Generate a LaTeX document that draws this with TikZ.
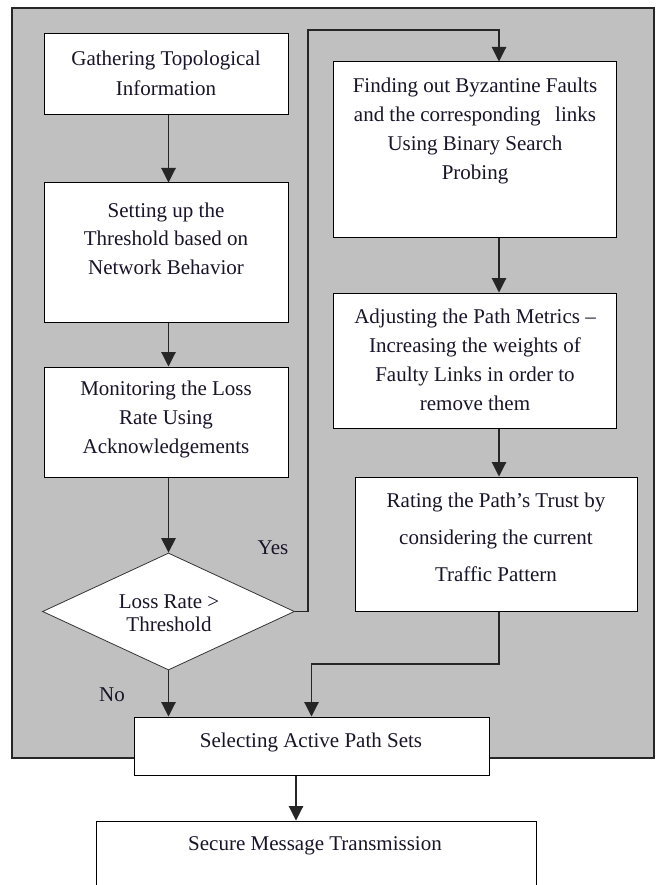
\documentclass[tikz,border=0pt]{standalone}
\usepackage{fontspec}
\setmainfont{Liberation Serif}
\usetikzlibrary{arrows.meta,shapes.geometric}
\definecolor{panelgray}{RGB}{192,192,192}
\definecolor{inkc}{RGB}{25,20,40}
\begin{document}
\begin{tikzpicture}[x=1pt,y=-1pt,
  panel/.style={draw=black!85, line width=1.1pt, fill=panelgray, inner sep=0pt},
  box/.style={draw=black, line width=1pt, fill=white, inner sep=0pt},
  decision/.style={diamond, draw=black!80, line width=0.8pt, fill=white, inner sep=0pt},
  txt/.style={align=center, text=inkc, inner sep=0pt},
  fs/.style={font=\fontsize{21}{#1}\selectfont},
  arr/.style={-{Triangle[width=14.5pt,length=14.5pt]}, line width=1.1pt, draw=black!85},
  lbl/.style={text=inkc, inner sep=0pt, font=\fontsize{21}{25}\selectfont}]
\useasboundingbox (0,0) rectangle (659,885);

% background panel
\node[panel, minimum width=642, minimum height=750] (panelbg) at (333,383) {};

% left column
\node[box, minimum width=244, minimum height=81]  (gather)  at (166,74.5) {};
\node[txt, fs=30] (gatherT) at (166,73) {Gathering Topological\\Information};

\node[box, minimum width=244, minimum height=139] (setup)   at (166,252.5) {};
\node[txt, fs=28.5] (setupT) at (166,238.5) {Setting up the\\Threshold based on\\Network Behavior};

\node[box, minimum width=244, minimum height=110] (monitor) at (166,422) {};
\node[txt, fs=29] (monitorT) at (166,419) {Monitoring the Loss\\Rate Using\\Acknowledgements};

\node[decision, minimum width=252, minimum height=117] (dec) at (168.5,611.5) {};
\node[txt, fs=23] (decT) at (169,613.5) {Loss Rate {>}\\Threshold};

% right column
\node[box, minimum width=283, minimum height=175] (find)   at (474.5,149.5) {};
\node[txt, fs=29.3] (findT) at (475,131) {Finding out Byzantine Faults\\and the corresponding\hspace{0.45em} links\\Using Binary Search\\Probing};

\node[box, minimum width=283, minimum height=135] (adjust) at (474.5,360.5) {};
\node[txt, fs=29] (adjustT) at (475,359.5) {Adjusting the Path Metrics --\\Increasing the weights of\\Faulty Links in order to\\remove them};

\node[box, minimum width=282, minimum height=134] (rate)   at (496,544) {};
\node[txt, fs=37] (rateT) at (496,537) {Rating the Path’s Trust by\\considering the current\\Traffic Pattern};

% bottom
\node[box, minimum width=355, minimum height=58] (select) at (311.5,746) {};
\node[txt, fs=25] (selectT) at (311,742) {Selecting Active Path Sets};

\node[box, minimum width=440, minimum height=79] (secure) at (316,860.5) {};
\node[txt, fs=25] (secureT) at (315,846) {Secure Message Transmission};

% helper coordinates
\coordinate (rc) at (499,0);
\coordinate (yesup) at (308,30);
\coordinate (join) at (311.5,664);
\coordinate (sx) at (296,0);

% connectors
\draw[arr] (gather.south -| dec.north) -- (setup.north -| dec.north);
\draw[arr] (setup.south -| dec.north) -- (monitor.north -| dec.north);
\draw[arr] (monitor.south -| dec.north) -- (dec.north);
\draw[arr] (dec.south) -- (dec.south |- select.north);
\draw[arr] (dec.east) -| (yesup) -| (find.north -| rc);
\draw[arr] (find.south -| rc) -- (adjust.north -| rc);
\draw[arr] (adjust.south -| rc) -- (rate.north -| rc);
\draw[arr] (rate.south -| rc) |- (join) -- (select.north);
\draw[arr] (select.south -| sx) -- (secure.north -| sx);

% labels
\node[lbl] (yes) at (273,548) {Yes};
\node[lbl] (no)  at (112,695) {No};
\end{tikzpicture}
\end{document}
